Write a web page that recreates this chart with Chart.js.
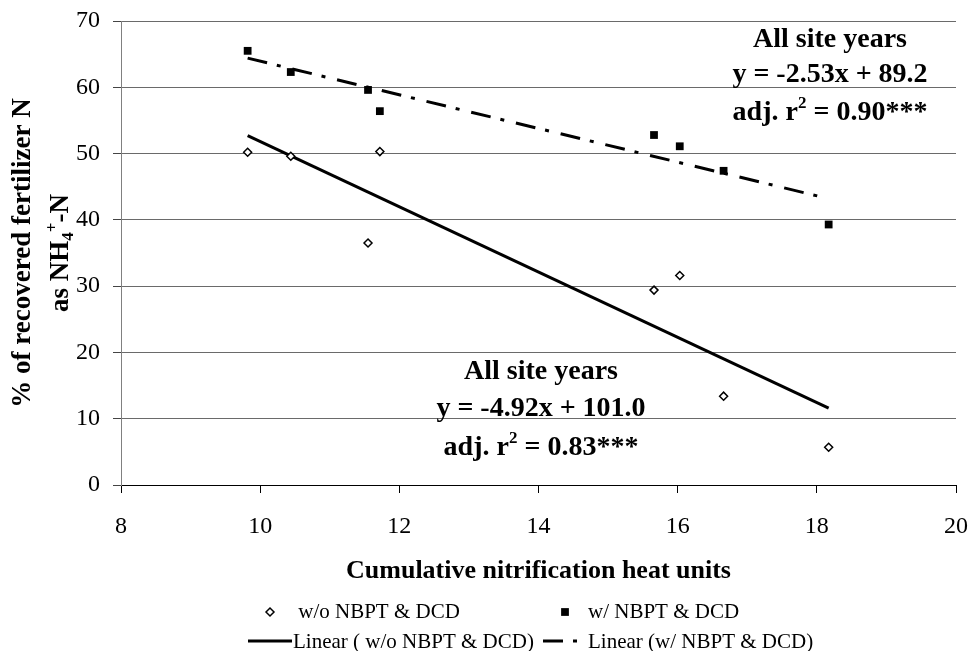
<!DOCTYPE html>
<html>
<head>
<meta charset="utf-8">
<script src="https://cdn.jsdelivr.net/npm/chart.js@4.4.0/dist/chart.umd.min.js"></script>
<style>
  html, body { margin: 0; padding: 0; background: #fff; }
</style>
</head>
<body>
<canvas id="nhChart" width="972" height="651"></canvas>
<script>
'use strict';

// cumulative nitrification heat units, one per site-year
const heatUnits = [9.82, 10.44, 11.55, 11.72, 15.66, 16.03, 16.66, 18.17];
const withoutInhib = [50.2, 49.6, 36.5, 50.3, 29.4, 31.6, 13.4, 5.7];
const withInhib = [65.5, 62.3, 59.6, 56.4, 52.8, 51.1, 47.4, 39.3];
// ends of the fitted lines
const fitX = [9.82, 18.17];
const fitWithout = [52.7, 11.6];
const fitWith = [64.4, 43.2];
const xTicks = [8, 10, 12, 14, 16, 18, 20];
const yTicks = [0, 10, 20, 30, 40, 50, 60, 70];
const seriesNames = [' w/o NBPT & DCD', 'w/ NBPT & DCD', 'Linear ( w/o NBPT & DCD)', 'Linear (w/ NBPT & DCD)'];

const serif = "'Liberation Serif', 'Times New Roman', serif";
const pts = (xs, ys) => xs.map((x, i) => ({ x, y: ys[i] }));

// text with sub/superscripts: parts = [[text, 'sub'|'sup'|undefined], ...]
function drawRich(ctx, parts, x, y, size, weight) {
    const fontFor = p => `${weight} ${p[1] ? Math.round(size * 0.62) : size}px ${serif}`;
    let total = 0;
    parts.forEach(p => { ctx.font = fontFor(p); total += ctx.measureText(p[0]).width; });
    let cx = x - total / 2;
    ctx.textAlign = 'left';
    parts.forEach(p => {
        ctx.font = fontFor(p);
        const dy = p[1] === 'sub' ? size * 0.2 : p[1] === 'sup' ? -size * 0.42 : 0;
        ctx.fillText(p[0], cx, y + dy);
        cx += ctx.measureText(p[0]).width;
    });
}

const textPlugin = {
    id: 'texts',
    afterDraw(chart) {
        const ctx = chart.ctx;
        const area = chart.chartArea;
        ctx.save();
        ctx.fillStyle = '#000';
        ctx.textBaseline = 'alphabetic';

        // y title (rotated, two lines)
        ctx.save();
        ctx.translate(0, (area.top + area.bottom) / 2);
        ctx.rotate(-Math.PI / 2);
        drawRich(ctx, [['% of recovered fertilizer N']], 0, 30, 27, 'bold');
        drawRich(ctx, [['as NH'], ['4', 'sub'], ['+', 'sup'], ['-N']], 0, 68, 27, 'bold');
        ctx.restore();

        // x title
        drawRich(ctx, [['Cumulative nitrification heat units']], (area.left + area.right) / 2, 578, 26, 'bold');

        // regression notes
        drawRich(ctx, [['All site years']], 830, 47, 28, 'bold');
        drawRich(ctx, [['y = -2.53x + 89.2']], 830, 82, 28, 'bold');
        drawRich(ctx, [['adj. r'], ['2', 'sup'], [' = 0.90***']], 830, 120, 28, 'bold');
        drawRich(ctx, [['All site years']], 541, 379, 28, 'bold');
        drawRich(ctx, [['y = -4.92x + 101.0']], 541, 416, 28, 'bold');
        drawRich(ctx, [['adj. r'], ['2', 'sup'], [' = 0.83***']], 541, 455, 28, 'bold');

        // legend, 2 x 2 grid
        const cols = [{ sym: 270, text: 293 }, { sym: 565, text: 588 }];
        const rows = [{ mid: 612, base: 618 }, { mid: 641, base: 648 }];
        chart.data.datasets.forEach((ds, i) => {
            const c = cols[i % 2], r = rows[Math.floor(i / 2)];
            ctx.save();
            if (ds.showLine) {
                ctx.strokeStyle = ds.borderColor;
                ctx.lineWidth = ds.borderWidth;
                ctx.setLineDash(ds.borderDash || []);
                ctx.beginPath();
                ctx.moveTo(c.sym - 22, r.mid);
                ctx.lineTo(c.sym + 22, r.mid);
                ctx.stroke();
            } else {
                ctx.fillStyle = ds.pointBackgroundColor;
                ctx.strokeStyle = ds.pointBorderColor;
                ctx.lineWidth = ds.pointBorderWidth;
                Chart.helpers.drawPoint(ctx, { pointStyle: ds.pointStyle, radius: ds.pointRadius, borderWidth: ds.pointBorderWidth, rotation: 0 }, c.sym, r.mid);
            }
            ctx.restore();
            ctx.font = `21px ${serif}`;
            ctx.textAlign = 'left';
            ctx.fillText(ds.label, c.text, r.base);
        });
        ctx.restore();
    }
};

new Chart(document.getElementById('nhChart'), {
    type: 'scatter',
    data: {
        datasets: [
            { label: seriesNames[0], data: pts(heatUnits, withoutInhib), pointStyle: 'rectRot', pointRadius: 4, pointBackgroundColor: '#fff', pointBorderColor: '#000', pointBorderWidth: 1.5, showLine: false },
            { label: seriesNames[1], data: pts(heatUnits, withInhib), pointStyle: 'rect', pointRadius: 5.5, pointBackgroundColor: '#000', pointBorderColor: '#000', pointBorderWidth: 0, showLine: false },
            { label: seriesNames[2], data: pts(fitX, fitWithout), showLine: true, borderColor: '#000', borderWidth: 3, pointRadius: 0 },
            { label: seriesNames[3], data: pts(fitX, fitWith), showLine: true, borderColor: '#000', borderWidth: 3, borderDash: [20, 10, 4, 12], pointRadius: 0 },
        ],
    },
    options: {
        responsive: false, animation: false, devicePixelRatio: 1,
        layout: { padding: 0 },
        plugins: { legend: { display: false }, tooltip: { enabled: false } },
        scales: {
            x: {
                type: 'linear', min: 8, max: 20,
                afterBuildTicks: s => { s.ticks = xTicks.map(v => ({ value: v })); },
                afterFit: s => { s.height = 166; s.paddingLeft = 0; s.paddingRight = 16; },
                grid: { drawOnChartArea: false, tickLength: 8, tickColor: '#000' },
                border: { color: '#000', width: 1 },
                ticks: { color: '#000', padding: 19, font: { family: serif, size: 24 } },
            },
            y: {
                min: 0, max: 70,
                afterBuildTicks: s => { s.ticks = yTicks.map(v => ({ value: v })); },
                afterFit: s => { s.width = 121; s.paddingTop = 21; s.paddingBottom = 0; },
                grid: { color: '#6a6a6a', tickLength: 8, tickColor: '#444' },
                border: { color: '#808080', width: 1 },
                ticks: { color: '#000', padding: 13, font: { family: serif, size: 24 } },
            },
        },
    },
    plugins: [textPlugin],
});
</script>
</body>
</html>
